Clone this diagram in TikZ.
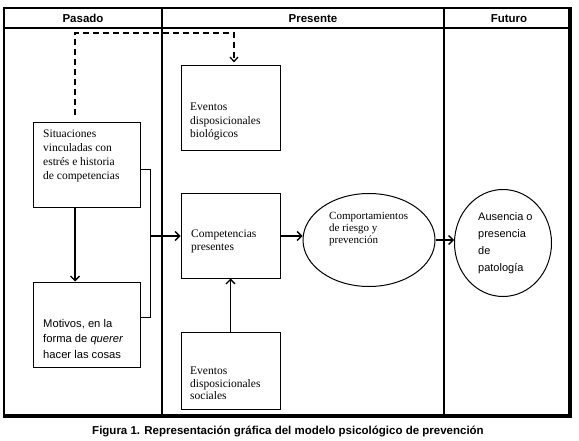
\documentclass[tikz,border=0pt]{standalone}
\usepackage{fontspec}
\setmainfont{Liberation Serif}
\newfontfamily\sansf{Liberation Sans}
\usetikzlibrary{arrows.meta,shapes.geometric}
\begin{document}
\begin{tikzpicture}[x=1pt,y=-1pt,
  frame/.style={line width=2pt},
  box/.style={draw,line width=1pt,inner sep=0pt},
  oval/.style={draw,ellipse,line width=1pt,inner sep=0pt},
  serift/.style={anchor=north west,align=left,inner sep=0pt,font=\fontsize{11.5}{13.5}\selectfont},
  sanst/.style={anchor=north west,align=left,inner sep=0pt,font=\sansf\fontsize{11.2}{15.5}\selectfont},
  head/.style={font=\sansf\bfseries\fontsize{11.5}{13}\selectfont,inner sep=0pt},
  arr/.style={line width=1.3pt,-{Straight Barb[length=4.5pt,width=9pt,line width=1.3pt]}},
  conn/.style={line width=1pt},
  dashconn/.style={line width=1.5pt,dash pattern=on 6pt off 4pt,-{Straight Barb[length=4.5pt,width=8pt,line width=1.3pt]}}]
\useasboundingbox (0,0) rectangle (579,441);
% frame
\draw[frame] (4,8) rectangle (570,416);
\draw[line width=4pt] (3,416) -- (572,416);
\draw[line width=4pt] (570,7) -- (570,418);
\draw[frame] (4,28) -- (570,28);
\draw[frame] (162,8) -- (162,416);
\draw[frame] (444,8) -- (444,416);
% headers
\node[head] (hpas) at (83,18.5) {Pasado};
\node[head] (hpre) at (313,18.5) {Presente};
\node[head] (hfut) at (509,18.5) {Futuro};
% boxes
\node[box,minimum width=107pt,minimum height=85pt] (sit) at (86.5,165.5) {};
\node[box,minimum width=107pt,minimum height=85pt] (mot) at (86.5,324.5) {};
\node[box,minimum width=99pt,minimum height=85pt] (bio) at (230.5,108.5) {};
\node[box,minimum width=99pt,minimum height=84pt] (comp) at (230.5,236) {};
\node[box,minimum width=99pt,minimum height=77pt] (soc) at (230.5,370.5) {};
\node[oval,minimum width=132pt,minimum height=93pt] (ell) at (369,240) {};
\node[oval,minimum width=97pt,minimum height=107pt] (circ) at (503,243) {};
% texts
\node[serift,font=\fontsize{11.5}{14}\selectfont] (tsit) at (43,130) {Situaciones\\vinculadas con\\estrés e historia\\de competencias};
\node[sanst] (tmot) at (43,319) {Motivos, en la\\forma de \textit{querer}\\hacer las cosas};
\node[serift] (tbio) at (190,103) {Eventos\\disposicionales\\biológicos};
\node[serift,font=\fontsize{11.5}{12.5}\selectfont] (tcomp) at (191,230) {Competencias\\presentes};
\node[serift,font=\fontsize{11.5}{12.5}\selectfont] (tsoc) at (190,367) {Eventos\\disposicionales\\sociales};
\node[serift,font=\fontsize{11}{12}\selectfont] (tell) at (329,212) {Comportamientos\\de riesgo y\\prevención};
\node[sanst,font=\sansf\fontsize{11}{17}\selectfont] (tcirc) at (478,212) {Ausencia o\\presencia\\de\\patología};
% caption
\node[font=\sansf\bfseries\fontsize{11.5}{13}\selectfont,inner sep=0pt] (cap) at (288,432) {Figura 1. Representación gráfica del modelo psicológico de prevención};
% connectors
\coordinate (dstart) at (75,115);
\coordinate (dtop1) at (75,33);
\coordinate (dtop2) at (234,33);
\draw[dashconn,shorten >=3pt] (dstart) -- (dtop1) -- (dtop2) -- (bio.north -| dtop2);
\draw[arr] (sit.south -| dstart) -- (mot.north -| dstart);
\coordinate (bt) at (150,170);
\coordinate (bb) at (150,317);
\coordinate (bm) at (150,236);
\draw[conn] (bt -| sit.east) -- (bt) -- (bb) -- (bb -| mot.east);
\draw[arr] (bm) -- (comp.west);
\draw[arr] (comp.east) -- (comp.east -| ell.west);
\draw[arr] (ell.east) -- (ell.east -| circ.west);
\draw[arr] (soc.north) -- (comp.south);
\end{tikzpicture}
\end{document}
